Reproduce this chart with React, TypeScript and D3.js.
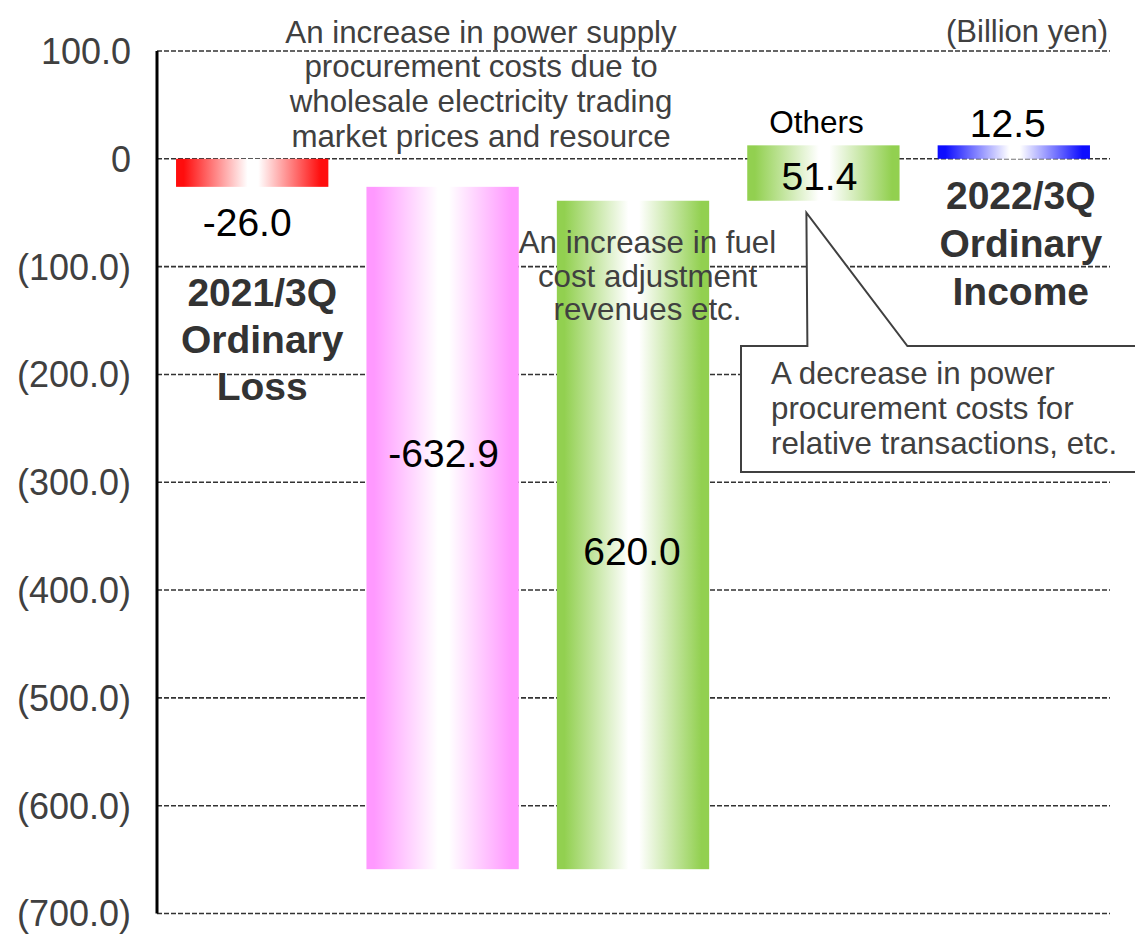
import React from "react";
import * as d3 from "d3";

// Waterfall of ordinary income, 2021/3Q -> 2022/3Q (Billion yen)
const categories = [
  "2021/3Q Ordinary Loss",
  "Power supply procurement",
  "Fuel cost adjustment",
  "Others",
  "2022/3Q Ordinary Income",
];
const values = [-26.0, -632.9, 620.0, 51.4, 12.5];
const isTotal = [true, false, false, false, true];
const barColors = ["#ff0d0d", "#ff99ff", "#92d050", "#92d050", "#0d0dff"];
const valueLabels = ["-26.0", "-632.9", "620.0", "51.4", "12.5"];

const tickValues = [100, 0, -100, -200, -300, -400, -500, -600, -700];
const formatTick = (v: number) =>
  v === 0 ? "0" : v < 0 ? `(${Math.abs(v).toFixed(1)})` : v.toFixed(1);

const unitLabel = "(Billion yen)";
const noteProcurement = [
  "An increase in power supply",
  "procurement costs due to",
  "wholesale electricity trading",
  "market prices and resource",
];
const noteFuel = ["An increase in fuel", "cost adjustment", "revenues etc."];
const noteOthers = [
  "A decrease in power",
  "procurement costs for",
  "relative transactions, etc.",
];
const startLabel = ["2021/3Q", "Ordinary", "Loss"];
const endLabel = ["2022/3Q", "Ordinary", "Income"];

const W = 1135;
const H = 946;
const FONT = "'Liberation Sans', Arial, sans-serif";

export default function App() {
  const y = d3.scaleLinear().domain([100, -700]).range([51, 913.5]);
  const x = d3
    .scaleBand<string>()
    .domain(categories)
    .range([157, 1109])
    .paddingInner(0.2)
    .paddingOuter(0.1);

  // running totals for the waterfall
  let running = 0;
  const bars = categories.map((c, i) => {
    let start: number, end: number;
    if (isTotal[i]) {
      start = 0;
      end = values[i];
    } else {
      start = running;
      end = running + values[i];
    }
    running = end;
    const top = y(Math.max(start, end));
    const bottom = y(Math.min(start, end));
    return { c, i, x0: x(c)!, w: x.bandwidth(), top, bottom, cx: x(c)! + x.bandwidth() / 2 };
  });

  // value label placement per bar: [dx, baseline]
  const labelPos = [
    [-5, bars[0].bottom + 49],
    [1, bars[1].top + (bars[1].bottom - bars[1].top) * 0.41],
    [-1, bars[2].top + (bars[2].bottom - bars[2].top) * 0.545],
    [-4, (bars[3].top + bars[3].bottom) / 2 + 17],
    [-6, bars[4].top - 8],
  ];

  const b3 = bars[3];
  const tipX = b3.cx - 17;
  const tipY = b3.bottom + 12;
  const boxL = 741, boxT = 346, boxB = 472, boxR = 1150;
  const callout = `M${boxL},${boxT} L${tipX + 1},${boxT} L${tipX},${tipY} L${tipX + 101},${boxT} L${boxR},${boxT} L${boxR},${boxB} L${boxL},${boxB} Z`;

  return (
    <svg
      width={W}
      height={H}
      style={{ position: "absolute", left: 0, top: 0, background: "#fff" }}
      fontFamily={FONT}
    >
      <defs>
        {bars.map((b) => (
          <linearGradient key={b.i} id={`grad${b.i}`} x1="0" x2="1" y1="0" y2="0">
            <stop offset="0" stopColor={barColors[b.i]} />
            <stop offset="0.05" stopColor={barColors[b.i]} />
            <stop offset="0.47" stopColor="#ffffff" />
            <stop offset="0.54" stopColor="#ffffff" />
            <stop offset="0.95" stopColor={barColors[b.i]} />
            <stop offset="1" stopColor={barColors[b.i]} />
          </linearGradient>
        ))}
      </defs>

      {/* gridlines */}
      {tickValues.map((t) => (
        <line
          key={t}
          x1={157}
          x2={1110}
          y1={y(t)}
          y2={y(t)}
          stroke="#333"
          strokeWidth={1.6}
          strokeDasharray="5,2"
        />
      ))}

      {/* tick labels */}
      {tickValues.map((t) => (
        <text
          key={t}
          x={131}
          y={y(t)}
          dy="0.36em"
          textAnchor="end"
          fontSize={36}
          fill="#404040"
        >
          {formatTick(t)}
        </text>
      ))}

      {/* bars */}
      {bars.map((b) => (
        <rect
          key={b.i}
          x={b.x0}
          y={b.top}
          width={b.w}
          height={b.bottom - b.top}
          fill={`url(#grad${b.i})`}
        />
      ))}

      {/* y axis line */}
      <line x1={157} x2={157} y1={y(100)} y2={y(-700)} stroke="#000" strokeWidth={3} />

      {/* value labels */}
      {bars.map((b) => (
        <text
          key={b.i}
          x={b.cx + labelPos[b.i][0]}
          y={labelPos[b.i][1]}
          textAnchor="middle"
          fontSize={39}
          fill="#000"
        >
          {valueLabels[b.i]}
        </text>
      ))}

      <text x={b3.cx - 7} y={133} textAnchor="middle" fontSize={31.5} fill="#000">
        Others
      </text>

      {/* unit */}
      <text x={1108} y={42} textAnchor="end" fontSize={31} fill="#404040">
        {unitLabel}
      </text>

      {/* notes */}
      {noteProcurement.map((s, k) => (
        <text key={k} x={481} y={42.7 + k * 34.7} textAnchor="middle" fontSize={31.3} fill="#404040">
          {s}
        </text>
      ))}
      {noteFuel.map((s, k) => (
        <text key={k} x={647.5} y={253 + k * 33.5} textAnchor="middle" fontSize={31.3} fill="#404040">
          {s}
        </text>
      ))}

      {/* totals captions */}
      {startLabel.map((s, k) => (
        <text
          key={k}
          x={bars[0].cx + 10}
          y={306 + k * 47}
          textAnchor="middle"
          fontSize={39}
          fontWeight="bold"
          fill="#333"
        >
          {s}
        </text>
      ))}
      {endLabel.map((s, k) => (
        <text
          key={k}
          x={bars[4].cx + 7}
          y={209 + k * 48}
          textAnchor="middle"
          fontSize={39}
          fontWeight="bold"
          fill="#333"
        >
          {s}
        </text>
      ))}

      {/* callout for Others */}
      <path d={callout} fill="#fff" stroke="#404040" strokeWidth={2} />
      {noteOthers.map((s, k) => (
        <text key={k} x={771} y={383.5 + k * 35} fontSize={31.3} fill="#404040">
          {s}
        </text>
      ))}
    </svg>
  );
}
